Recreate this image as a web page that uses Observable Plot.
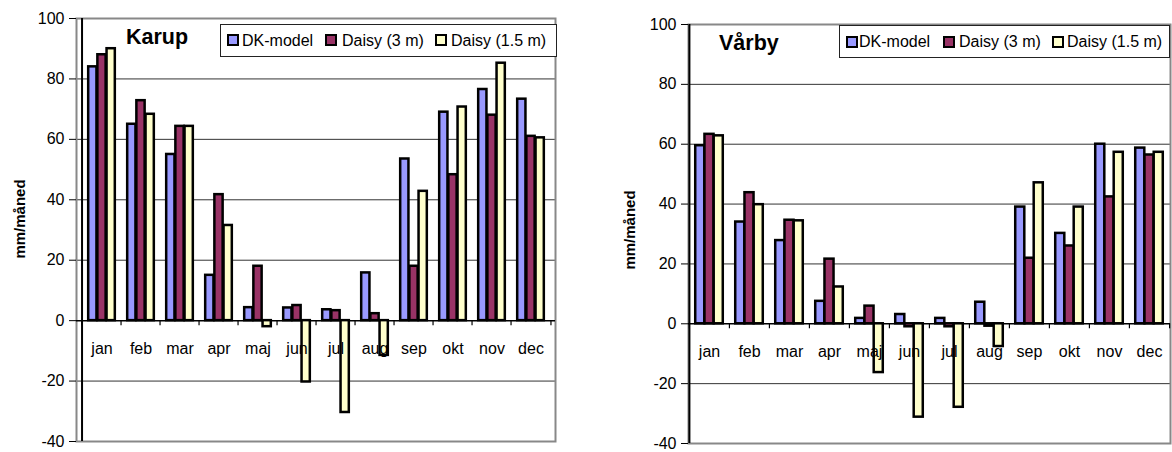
<!DOCTYPE html>
<html><head><meta charset="utf-8">
<script src="https://cdn.jsdelivr.net/npm/d3@7"></script>
<script src="https://cdn.jsdelivr.net/npm/@observablehq/plot@0.6"></script>
<style>
body{margin:0;background:#fff;font-family:"Liberation Sans",Arial,sans-serif;}
#root{position:relative;width:1172px;height:452px;overflow:hidden;background:#fff;}
.abs{position:absolute;white-space:nowrap;line-height:1;color:#000;}
.title{font-weight:bold;font-size:21.5px;}
.ylab{font-weight:bold;font-size:15px;transform:translate(-50%,-50%) rotate(-90deg);}
.lbox{border:1px solid #222;background:#fff;box-sizing:border-box;}
.sw{width:12px;height:12px;border:2px solid #000;box-sizing:border-box;}
.lt{font-size:16px;}
svg{position:absolute;top:0;}
</style></head><body><div id="root"></div>
<script>
const months = ["jan","feb","mar","apr","maj","jun","jul","aug","sep","okt","nov","dec"];
const seriesNames = ["DK-model","Daisy (3 m)","Daisy (1.5 m)"];
const seriesColors = ["#9999FF","#993366","#FFFFCC"];
const yTicks = [-40,-20,0,20,40,60,80,100];
const gridValues = [-20,20,40,60,80];

const karupDK  = [84, 65, 55, 15, 4.3, 4.2, 3.6, 15.8, 53.5, 69, 76.5, 73.3];
const karupD3  = [88, 72.8, 64.3, 41.7, 18, 5, 3.3, 2.3, 18, 48.3, 68, 61];
const karupD15 = [90, 68.3, 64.3, 31.5, -2, -20.3, -30.4, -11.5, 42.8, 70.7, 85.2, 60.5];

const varbyDK  = [59.5, 34, 27.8, 7.5, 1.8, 3.1, 1.8, 7.2, 39, 30.2, 60, 58.7];
const varbyD3  = [63.3, 43.8, 34.6, 21.6, 5.9, -1, -1, -0.8, 21.9, 26, 42.4, 56.4];
const varbyD15 = [62.8, 39.8, 34.4, 12.3, -16.3, -31.2, -27.9, -7.6, 47.1, 39, 57.3, 57.3];

const root = document.getElementById("root");

function el(cls, css, text){
  const d = document.createElement("div");
  d.className = cls;
  Object.assign(d.style, css);
  if (text != null) d.textContent = text;
  root.appendChild(d);
  return d;
}

function chart(cfg){
  const {left, width, height, mL, mR, mT, mB, values} = cfg;
  const bw = (width - mL - mR) / months.length;
  const pxPerUnit = (height - mT - mB) / (yTicks[yTicks.length-1] - yTicks[0]);
  const tickLen = 5 / pxPerUnit;
  const start = bw * 0.155, bwid = bw * 0.23;
  const barMarks = values.map((arr, i) => {
    const data = months.map((m, j) => ({month: m, value: arr[j]}));
    return Plot.barY(data, {
      x: "month", y: "value", fill: seriesColors[i], stroke: "#000", strokeWidth: 2.5,
      insetLeft: start + i * bwid, insetRight: bw - (start + (i + 1) * bwid)
    });
  });
  const svg = Plot.plot({
    width, height, marginLeft: mL, marginRight: mR, marginTop: mT, marginBottom: mB,
    style: {fontFamily: "'Liberation Sans', Arial, sans-serif", fontSize: "16px", color: "#000", background: "transparent", overflow: "visible"},
    x: {type: "band", domain: months, padding: 0, axis: null},
    y: {domain: [yTicks[0], yTicks[yTicks.length-1]], axis: null},
    marks: [
      Plot.ruleY(gridValues, {stroke: "#333", strokeWidth: 1}),
      Plot.frame({stroke: "#888", strokeWidth: 2}),
      Plot.ruleY([0], {stroke: "#000", strokeWidth: 1.5}),
      Plot.ruleX(months, {x: d => d, dx: -bw / 2, y1: 0, y2: -tickLen, stroke: "#000", strokeWidth: 1.2}),
      Plot.ruleX([months[months.length-1]], {x: d => d, dx: bw / 2, y1: 0, y2: -tickLen, stroke: "#000", strokeWidth: 1.2}),
      ...barMarks,
      Plot.ruleX([months[0]], {x: d => d, dx: -bw / 2, stroke: "#000", strokeWidth: 2}),
      Plot.axisY({ticks: yTicks, tickSize: 7, tickPadding: 5, fontSize: 16, label: null, tickFormat: d => String(d), stroke: "#000"}),
      Plot.text(months, {x: d => d, y: 0, dy: 28, text: d => d, fontSize: 16, fill: "#000"})
    ]
  });
  svg.style.left = left + "px";
  root.appendChild(svg);

  el("abs title", {left: cfg.titleX + "px", top: cfg.titleY + "px"}, cfg.title);
  el("abs ylab", {left: cfg.ylabX + "px", top: cfg.ylabY + "px"}, "mm/måned");
  const lb = cfg.legend;
  el("abs lbox", {left: lb.x + "px", top: lb.y + "px", width: lb.w + "px", height: lb.h + "px"});
  seriesNames.forEach((name, i) => {
    el("abs sw", {left: lb.sx[i] + "px", top: lb.sy + "px", background: seriesColors[i]});
    el("abs lt", {left: lb.tx[i] + "px", top: lb.ty + "px"}, name);
  });
}

chart({
  left: 0, width: 580, height: 452, mL: 76, mR: 25, mT: 18, mB: 11,
  values: [karupDK, karupD3, karupD15],
  title: "Karup", titleX: 126, titleY: 27,
  ylabX: 19, ylabY: 219,
  legend: {x: 220, y: 24, w: 337, h: 33, sx: [227, 325, 435], sy: 34, tx: [242, 342, 451], ty: 32.5}
});
chart({
  left: 586, width: 586, height: 452, mL: 102, mR: 2, mT: 24, mB: 9,
  values: [varbyDK, varbyD3, varbyD15],
  title: "Vårby", titleX: 719, titleY: 33,
  ylabX: 629, ylabY: 230,
  legend: {x: 839, y: 25, w: 331, h: 33, sx: [846, 943, 1052], sy: 36, tx: [859, 959, 1067], ty: 34}
});
</script>
</body></html>
